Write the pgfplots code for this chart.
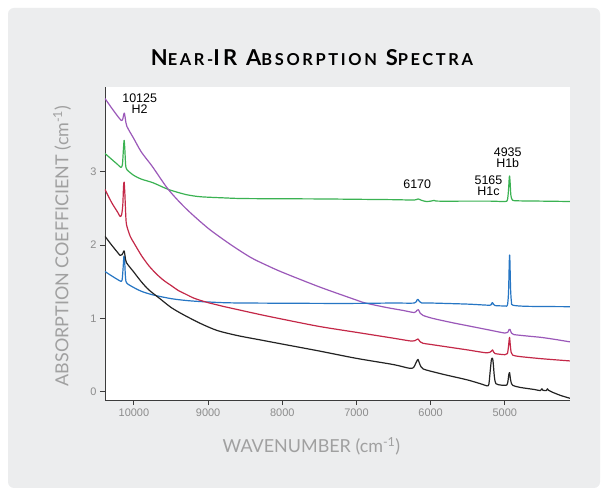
\documentclass[border=0pt]{standalone}
\usepackage{fontspec}
\setmainfont{Liberation Sans}
\newfontfamily\labelfont{Lato}
\newfontfamily\titlefont[LetterSpace=16]{Lato}
\usepackage{pgfplots}
\pgfplotsset{compat=1.18}

\definecolor{cpurple}{RGB}{155,88,185}
\definecolor{cgreen}{RGB}{58,178,82}
\definecolor{cred}{RGB}{196,40,72}
\definecolor{cblue}{RGB}{38,118,196}
\definecolor{cblack}{RGB}{35,35,35}
\definecolor{panel}{RGB}{236,237,238}
\definecolor{tickgray}{RGB}{140,140,140}
\definecolor{labgray}{RGB}{160,160,160}
\definecolor{axisgray}{RGB}{60,60,60}

% faux small caps for the title
\newcommand\tsc[2]{{\fontsize{22}{24}\selectfont #1}{\fontsize{16.5}{24}\selectfont #2}}

\begin{document}
\begin{tikzpicture}
% page and grey card
\fill[white] (0bp,0bp) rectangle (605bp,478bp);
\fill[panel, rounded corners=6bp] (8bp,-10bp) rectangle (600bp,470bp);

\begin{axis}[
  at={(105bp,78bp)}, anchor=south west,
  scale only axis, width=465bp, height=313bp,
  x dir=reverse,
  xmin=4121, xmax=10390,
  ymin=-0.113, ymax=4.157,
  axis x line*=bottom, axis y line*=left,
  axis background/.style={fill=white},
  axis line style={draw=axisgray, line width=0.9bp},
  tick align=outside, major tick length=5bp,
  tick style={draw=axisgray, line width=0.9bp},
  xtick={5000,6000,7000,8000,9000,10000},
  ytick={0,1,2,3},
  scaled x ticks=false,
  ticklabel style={font=\fontsize{11}{12}\selectfont, text=tickgray},
  /pgf/number format/assume math mode=true,
  /pgf/number format/1000 sep={},
  every axis plot/.append style={line width=1.2bp, line join=round, smooth, tension=0.45},
  clip mode=individual,
]
% green
\addplot[cgreen] coordinates {
 (10390,3.25) (10300,3.17) (10220,3.10) (10175,3.06) (10155,3.10) (10142,3.30)
 (10132,3.43) (10122,3.30) (10112,3.10) (10095,3.03) (10000,2.95) (9900,2.90)
 (9741,2.85) (9537,2.76) (9300,2.69) (9105,2.66) (8800,2.645) (8500,2.635)
 (7500,2.63) (7000,2.625) (6500,2.62) (6220,2.615) (6170,2.63) (6120,2.61)
 (6060,2.595) (6000,2.60) (5950,2.61) (5900,2.60) (5500,2.60) (5200,2.60)
 (5000,2.595) (4965,2.615) (4950,2.75) (4940,2.92) (4935,2.94) (4928,2.85)
 (4918,2.68) (4900,2.62) (4850,2.605) (4500,2.60) (4121,2.595)
};
% purple
\addplot[cpurple] coordinates {
 (10390,4.00) (10300,3.87) (10220,3.76) (10170,3.70) (10150,3.72) (10138,3.78)
 (10128,3.80) (10115,3.72) (10095,3.62) (10000,3.45) (9900,3.27) (9750,3.07)
 (9537,2.76) (9300,2.50) (9000,2.23) (8700,2.01) (8423,1.83) (8200,1.72)
 (8000,1.63) (7500,1.43) (7000,1.25) (6880,1.21) (6600,1.15) (6378,1.11)
 (6220,1.08) (6185,1.11) (6165,1.12) (6140,1.07) (6100,1.04) (5970,1.00)
 (5700,0.94) (5500,0.90) (5200,0.84) (5000,0.80) (4960,0.81) (4942,0.85)
 (4930,0.85) (4910,0.80) (4880,0.78) (4700,0.76) (4500,0.74) (4300,0.71)
 (4121,0.68)
};
% blue
\addplot[cblue] coordinates {
 (10390,1.64) (10300,1.58) (10220,1.53) (10185,1.51) (10160,1.52) (10145,1.70)
 (10135,1.85) (10125,1.78) (10113,1.55) (10095,1.48) (10000,1.42) (9900,1.37)
 (9741,1.32) (9500,1.27) (9300,1.245) (9105,1.23) (8800,1.215) (8500,1.21)
 (7500,1.205) (7000,1.205) (6500,1.21) (6220,1.21) (6185,1.25) (6170,1.26)
 (6150,1.23) (6120,1.21) (6000,1.21) (5500,1.195) (5200,1.18) (5180,1.205)
 (5165,1.215) (5150,1.19) (5130,1.175) (5000,1.17) (4965,1.18) (4950,1.35)
 (4940,1.75) (4935,1.865) (4930,1.75) (4922,1.40) (4910,1.22) (4890,1.18)
 (4700,1.165) (4121,1.16)
};
% red
\addplot[cred] coordinates {
 (10390,2.76) (10300,2.58) (10220,2.45) (10185,2.39) (10165,2.42) (10150,2.55)
 (10140,2.80) (10132,2.86) (10122,2.70) (10112,2.45) (10100,2.28) (10050,2.12)
 (10000,2.03) (9900,1.86) (9800,1.72) (9700,1.61) (9600,1.52) (9500,1.45)
 (9400,1.38) (9300,1.33) (9200,1.28) (9100,1.245) (9000,1.215) (8900,1.19)
 (8800,1.165) (8600,1.12) (8287,1.05) (8000,0.99) (7500,0.89) (7000,0.81)
 (6500,0.73) (6250,0.69) (6190,0.71) (6170,0.72) (6140,0.68) (6100,0.66)
 (6000,0.645) (5700,0.60) (5500,0.57) (5243,0.53) (5185,0.55) (5165,0.57)
 (5150,0.54) (5130,0.52) (5000,0.505) (4965,0.52) (4950,0.62) (4940,0.72)
 (4935,0.74) (4928,0.66) (4915,0.54) (4895,0.50) (4800,0.48) (4500,0.45)
 (4121,0.42)
};
% black
\addplot[cblack] coordinates {
 (10390,2.12) (10300,2.00) (10220,1.90) (10185,1.86) (10160,1.87) (10140,1.91)
 (10130,1.92) (10118,1.84) (10100,1.76) (10000,1.63) (9900,1.50) (9800,1.39)
 (9650,1.27) (9500,1.15) (9332,1.05) (9100,0.93) (8877,0.835) (8600,0.765)
 (8287,0.705) (8000,0.65) (7500,0.555) (7000,0.455) (6500,0.37) (6287,0.32)
 (6230,0.33) (6200,0.39) (6180,0.43) (6170,0.44) (6155,0.40) (6130,0.34)
 (6100,0.31) (6000,0.28) (5800,0.23) (5500,0.16) (5300,0.10) (5240,0.08)
 (5215,0.10) (5195,0.30) (5180,0.44) (5165,0.455) (5155,0.38) (5140,0.20)
 (5120,0.11) (5050,0.09) (4975,0.09) (4958,0.14) (4945,0.24) (4935,0.26)
 (4925,0.18) (4910,0.11) (4890,0.085) (4800,0.06) (4600,0.03) (4520,0.015)
 (4500,0.04) (4485,0.02) (4440,0.015) (4425,0.04) (4410,0.02) (4350,-0.01)
 (4250,-0.05) (4121,-0.09)
};
% peak annotations
\begin{scope}[every node/.style={font=\fontsize{12.5}{11}\selectfont, align=center, inner sep=0pt}]
\node at (axis cs:9922,3.93) {10125\\H2};
\node at (axis cs:4961,3.19) {4935\\H1b};
\node at (axis cs:5220,2.81) {5165\\H1c};
\node at (axis cs:6181,2.83) {6170};
\end{scope}
\end{axis}

% title and axis labels
\node[font=\titlefont\bfseries\fontsize{22}{24}\selectfont] at (312bp,420bp)
  {\tsc{N}{EAR-}IR \tsc{A}{BSORPTION} \tsc{S}{PECTRA}};
\node[font=\labelfont\fontsize{18}{20}\selectfont, text=labgray, rotate=90] at (62bp,232bp)
  {ABSORPTION COEFFICIENT (cm\textsuperscript{-1})};
\node[font=\labelfont\fontsize{18}{20}\selectfont, text=labgray] at (311.5bp,32bp)
  {WAVENUMBER (cm\textsuperscript{-1})};
\useasboundingbox (0bp,0bp) rectangle (605bp,478bp);
\end{tikzpicture}
\end{document}
